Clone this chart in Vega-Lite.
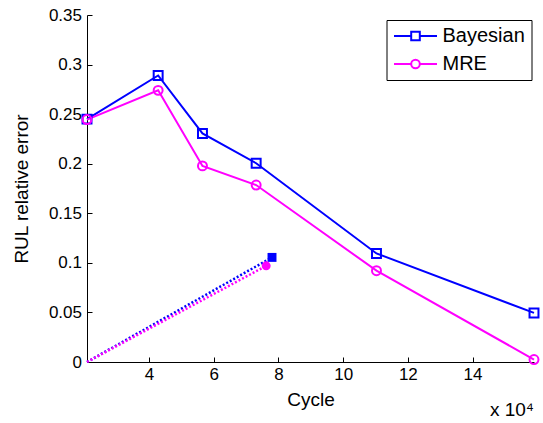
{
  "$schema": "https://vega.github.io/schema/vega-lite/v6.json",
  "width": 447,
  "height": 347,
  "autosize": {"type": "none"},
  "padding": {"left": 87, "top": 15, "right": 9, "bottom": 61},
  "title": {
    "text": "x 10⁴",
    "orient": "bottom",
    "anchor": "end",
    "frame": "group",
    "offset": -8,
    "fontSize": 19,
    "fontWeight": "normal",
    "font": "Liberation Sans",
    "color": "black"
  },
  "datasets": {
    "main": [
      {"series": "Bayesian", "cycle": 20800, "error": 0.245},
      {"series": "Bayesian", "cycle": 42800, "error": 0.289},
      {"series": "Bayesian", "cycle": 56500, "error": 0.2305},
      {"series": "Bayesian", "cycle": 73100, "error": 0.2005},
      {"series": "Bayesian", "cycle": 110300, "error": 0.1095},
      {"series": "Bayesian", "cycle": 159000, "error": 0.0495},
      {"series": "MRE", "cycle": 20800, "error": 0.2445},
      {"series": "MRE", "cycle": 42800, "error": 0.274},
      {"series": "MRE", "cycle": 56500, "error": 0.1978},
      {"series": "MRE", "cycle": 73100, "error": 0.1785},
      {"series": "MRE", "cycle": 110300, "error": 0.0921},
      {"series": "MRE", "cycle": 159000, "error": 0.0025}
    ],
    "trend": [
      {"series": "Bayesian", "cycle": 20800, "error": 0},
      {"series": "Bayesian", "cycle": 78000, "error": 0.1055},
      {"series": "MRE", "cycle": 20800, "error": 0},
      {"series": "MRE", "cycle": 76200, "error": 0.097}
    ]
  },
  "encoding": {
    "x": {
      "field": "cycle",
      "type": "quantitative",
      "scale": {"domain": [20800, 159000], "nice": false, "zero": false},
      "axis": {
        "title": "Cycle",
        "values": [40000, 60000, 80000, 100000, 120000, 140000],
        "labelExpr": "datum.value / 10000",
        "tickSize": -5,
        "labelPadding": 9,
        "titlePadding": 8
      }
    },
    "y": {
      "field": "error",
      "type": "quantitative",
      "scale": {"domain": [0, 0.35], "nice": false},
      "axis": {
        "title": "RUL relative error",
        "values": [0, 0.05, 0.1, 0.15, 0.2, 0.25, 0.3, 0.35],
        "format": "~g",
        "tickSize": -5,
        "labelPadding": 10.5,
        "titlePadding": 17
      }
    }
  },
  "layer": [
    {
      "data": {"name": "main"},
      "mark": {"type": "line", "strokeWidth": 2, "clip": false},
      "encoding": {
        "color": {
          "field": "series",
          "type": "nominal",
          "scale": {"domain": ["Bayesian", "MRE"], "range": ["#0000ff", "#ff00ff"]},
          "legend": {
            "title": null,
            "orient": "none",
            "legendX": 299.5,
            "legendY": 5,
            "padding": 6,
            "strokeColor": "black",
            "fillColor": "white",
            "cornerRadius": 0,
            "symbolSize": 1850,
            "clipHeight": 20,
            "rowPadding": 8,
            "labelOffset": 4,
            "labelFontSize": 20,
            "labelFont": "Liberation Sans",
            "labelColor": "black",
            "symbolStrokeWidth": 2,
            "symbolOpacity": 1,
            "symbolFillColor": "transparent"
          }
        }
      }
    },
    {
      "data": {"name": "trend"},
      "mark": {"type": "line", "strokeWidth": 2.5, "strokeDash": [2, 2], "clip": false},
      "encoding": {
        "color": {"field": "series", "type": "nominal"}
      }
    },
    {
      "data": {"name": "main"},
      "mark": {"type": "point", "filled": false, "size": 80, "strokeWidth": 2, "opacity": 1},
      "encoding": {
        "color": {"field": "series", "type": "nominal"},
        "shape": {"condition": {"test": "datum.series === 'Bayesian'", "value": "square"}, "value": "circle"}
      }
    },
    {
      "data": {"name": "main"},
      "transform": [{"filter": "false"}],
      "mark": {"type": "point", "filled": false, "strokeWidth": 2, "opacity": 1},
      "encoding": {
        "color": {"field": "series", "type": "nominal"},
        "shape": {
          "field": "series",
          "type": "nominal",
          "scale": {
            "domain": ["Bayesian", "MRE"],
            "range": [
              "M-1,0H-0.2M0.2,0H1M-0.2,-0.2H0.2V0.2H-0.2Z",
              "M-1,0H-0.2M0.2,0H1M-0.2,0A0.2,0.2,0,1,1,0.2,0A0.2,0.2,0,1,1,-0.2,0Z"
            ]
          },
          "legend": {
            "title": null,
            "orient": "none",
            "legendX": 299.5,
            "legendY": 5,
            "padding": 6,
            "strokeColor": "black",
            "fillColor": "white",
            "cornerRadius": 0,
            "symbolSize": 1850,
            "clipHeight": 20,
            "rowPadding": 8,
            "labelOffset": 4,
            "labelFontSize": 20,
            "labelFont": "Liberation Sans",
            "labelColor": "black",
            "symbolStrokeWidth": 2,
            "symbolOpacity": 1,
            "symbolFillColor": "transparent"
          }
        }
      }
    },
    {
      "data": {"name": "trend"},
      "transform": [{"filter": "datum.error > 0"}],
      "mark": {"type": "point", "filled": true, "size": 80, "opacity": 1},
      "encoding": {
        "color": {"condition": {"test": "datum.series === 'Bayesian'", "value": "#0000ff"}, "value": "#ff00ff"},
        "shape": {"condition": {"test": "datum.series === 'Bayesian'", "value": "square"}, "value": "circle"}
      }
    }
  ],
  "config": {
    "font": "Liberation Sans",
    "view": {"stroke": null},
    "axis": {
      "grid": false,
      "domainColor": "black",
      "domainWidth": 1,
      "tickColor": "black",
      "tickWidth": 1,
      "labelColor": "black",
      "labelFontSize": 17,
      "labelFont": "Liberation Sans",
      "titleFont": "Liberation Sans",
      "titleFontSize": 19,
      "titleFontWeight": "normal",
      "titleColor": "black",
      "labelFlush": false,
      "labelOverlap": false
    }
  }
}
